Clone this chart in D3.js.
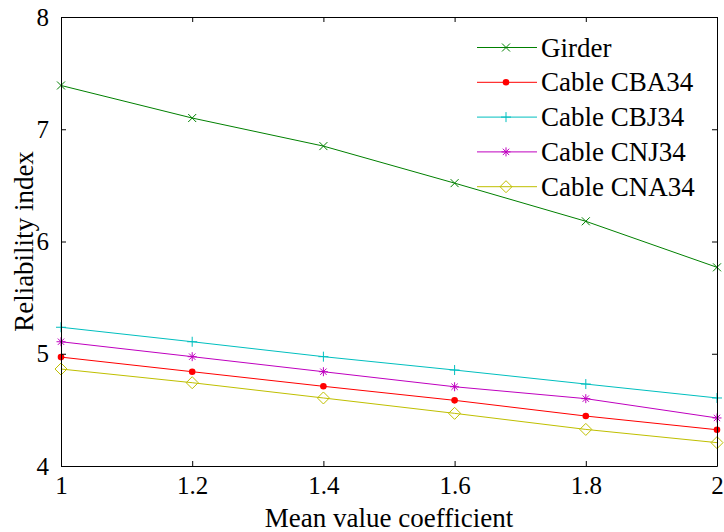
<!DOCTYPE html>
<html>
<head>
<meta charset="utf-8">
<script src="https://cdn.jsdelivr.net/npm/d3@7"></script>
<style>
  body { margin: 0; background: #fff; }
  svg text { font-family: "Liberation Serif", "Times New Roman", serif; }
</style>
</head>
<body>
<div id="chart"></div>
<script>
// data
const meanCoef = [1, 1.2, 1.4, 1.6, 1.8, 2]
const girder = [7.39, 7.10, 6.85, 6.52, 6.18, 5.77]
const cableCBA34 = [4.97, 4.84, 4.71, 4.585, 4.445, 4.323]
const cableCBJ34 = [5.236, 5.107, 4.974, 4.855, 4.73, 4.606]
const cableCNJ34 = [5.107, 4.974, 4.84, 4.706, 4.60, 4.428]
const cableCNA34 = [4.864, 4.742, 4.606, 4.469, 4.326, 4.208]
const xTicks = [1, 1.2, 1.4, 1.6, 1.8, 2]
const yTicks = [4, 5, 6, 7, 8]

const series = [
    {name: "Girder", values: girder, color: "#008000", marker: "x"},
    {name: "Cable CBA34", values: cableCBA34, color: "#ff0000", marker: "dot"},
    {name: "Cable CBJ34", values: cableCBJ34, color: "#00bfbf", marker: "plus"},
    {name: "Cable CNJ34", values: cableCNJ34, color: "#bf00bf", marker: "star"},
    {name: "Cable CNA34", values: cableCNA34, color: "#bfbf00", marker: "diamond"}
]

const fontFamily = "'Liberation Serif', 'Times New Roman', serif"
const width = 724
const height = 532
const marginLeft = 61
const marginRight = 7
const marginTop = 17
const marginBottom = 66

const xScale = d3.scaleLinear([1, 2], [marginLeft, width - marginRight])
const yScale = d3.scaleLinear([4, 8], [height - marginBottom, marginTop])

const svg = d3.select("#chart")
    .append("svg")
    .attr("width", width)
    .attr("height", height)
    .attr("viewBox", [0, 0, width, height])
    .attr("font-family", fontFamily)

// markers, drawn centred on 0,0
function drawMarker(g, type, color) {
    const s = 4
    if (type === "x") {
        g.append("path").attr("d", `M${-s},${-s}L${s},${s}M${-s},${s}L${s},${-s}`)
            .attr("stroke", color).attr("fill", "none")
    } else if (type === "dot") {
        g.append("circle").attr("r", 3.3).attr("fill", color)
    } else if (type === "plus") {
        g.append("path").attr("d", `M${-s - 1},0L${s + 1},0M0,${-s - 1}L0,${s + 1}`)
            .attr("stroke", color).attr("fill", "none")
    } else if (type === "star") {
        const r = 4.5
        const d = d3.range(4).map(k => {
            const a = k * Math.PI / 4
            return `M${-r * Math.cos(a)},${-r * Math.sin(a)}L${r * Math.cos(a)},${r * Math.sin(a)}`
        }).join("")
        g.append("path").attr("d", d).attr("stroke", color).attr("fill", "none")
    } else if (type === "diamond") {
        const r = 6
        g.append("path").attr("d", `M0,${-r}L${r},0L0,${r}L${-r},0Z`)
            .attr("stroke", color).attr("fill", "none")
    }
}

// lines
const line = d3.line()
    .x((d, i) => xScale(meanCoef[i]))
    .y(d => yScale(d))

series.forEach(s => {
    svg.append("path")
        .attr("d", line(s.values))
        .attr("fill", "none")
        .attr("stroke", s.color)
        .attr("stroke-width", 1)
    s.values.forEach((v, i) => {
        const g = svg.append("g")
            .attr("transform", `translate(${xScale(meanCoef[i])},${yScale(v)})`)
        drawMarker(g, s.marker, s.color)
    })
})

// axes box with inward ticks (matlab style)
const tickLen = 5
const xBottom = d3.axisBottom(xScale).tickValues(xTicks).tickSizeInner(-tickLen).tickSizeOuter(0)
    .tickPadding(10).tickFormat(d3.format("~g"))
const xTop = d3.axisTop(xScale).tickValues(xTicks).tickSizeInner(-tickLen).tickSizeOuter(0).tickFormat("")
const yLeft = d3.axisLeft(yScale).tickValues(yTicks).tickSizeInner(-tickLen).tickSizeOuter(0)
    .tickPadding(12).tickFormat(d3.format("d"))
const yRight = d3.axisRight(yScale).tickValues(yTicks).tickSizeInner(-tickLen).tickSizeOuter(0).tickFormat("")

const styleAxis = g => {
    g.attr("font-family", fontFamily).attr("font-size", null)
    g.selectAll("text").attr("font-size", 25).attr("fill", "#000")
    g.selectAll("line").attr("stroke", "#000")
    g.select(".domain").attr("stroke", "#000")
}

svg.append("g")
    .attr("transform", `translate(0,${height - marginBottom})`)
    .call(xBottom).call(styleAxis)
svg.append("g")
    .attr("transform", `translate(0,${marginTop})`)
    .call(xTop).call(styleAxis)
svg.append("g")
    .attr("transform", `translate(${marginLeft},0)`)
    .call(yLeft).call(styleAxis)
svg.append("g")
    .attr("transform", `translate(${width - marginRight},0)`)
    .call(yRight).call(styleAxis)

// axis labels
svg.append("text")
    .attr("x", (marginLeft + width - marginRight) / 2)
    .attr("y", 527)
    .attr("text-anchor", "middle")
    .attr("font-size", 27)
    .text("Mean value coefficient")

svg.append("text")
    .attr("transform", `translate(33,${(marginTop + height - marginBottom) / 2}) rotate(-90)`)
    .attr("text-anchor", "middle")
    .attr("font-size", 27)
    .text("Reliability index")

// legend (no box)
const legend = svg.append("g")
series.forEach((s, i) => {
    const y = 47.5 + i * 34.8
    const g = legend.append("g").attr("transform", `translate(0,${y})`)
    g.append("line").attr("x1", 477).attr("x2", 537).attr("stroke", s.color)
    const m = g.append("g").attr("transform", "translate(506,0)")
    drawMarker(m, s.marker, s.color)
    g.append("text")
        .attr("x", 541)
        .attr("y", 9)
        .attr("font-size", 27)
        .text(s.name)
})
</script>
</body>
</html>
